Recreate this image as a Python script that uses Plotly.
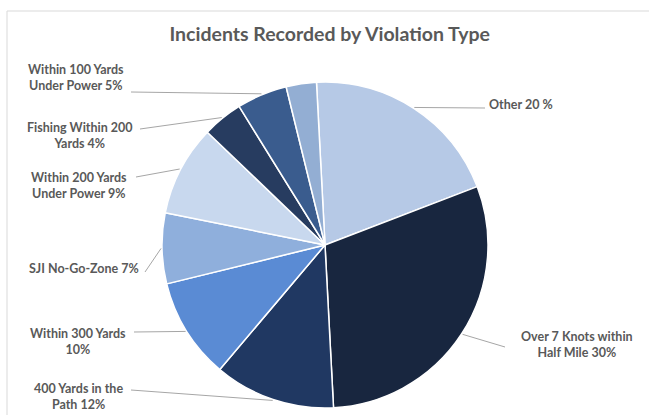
import math
import plotly.graph_objects as go

# ---- data ----
labels = ["Other", "Over 7 Knots within Half Mile", "400 Yards in the Path",
          "Within 300 Yards", "SJI No-Go-Zone", "Within 200 Yards Under Power",
          "Fishing Within 200 Yards", "Within 100 Yards Under Power", "Unlabeled"]
values = [20, 30, 12, 10, 7, 9, 4, 5, 3]
label_texts = ["Other 20 %", "Over 7 Knots within<br>Half Mile 30%",
               "400 Yards in the<br>Path 12%", "Within 300 Yards<br>10%",
               "SJI No-Go-Zone 7%", "Within 200 Yards<br>Under Power 9%",
               "Fishing Within 200<br>Yards 4%", "Within 100 Yards<br>Under Power 5%", None]
colors = ["#B6C9E6", "#18263F", "#203862", "#5A8BD4", "#8FAFDC",
          "#C8D8EE", "#273C60", "#3A5C8E", "#93AED3"]

# ---- layout constants (pixels) ----
W, H = 649, 415
CX, CY, R = 325, 245, 163
ROT = -3
# label text anchor (x, y, xanchor) and leader-line label end (x, y)
label_pos = [
    (487, 104, "left", (485, 108)),
    (577, 344, "center", (505, 347)),
    (78, 396, "center", (131, 390)),
    (78, 341, "center", (134, 332)),
    (84, 268, "center", (145, 272)),
    (79, 185, "center", (136, 177)),
    (80, 135, "center", (140, 129)),
    (76, 77, "center", (131, 92)),
    None,
]

fig = go.Figure()
fig.add_trace(go.Pie(
    labels=labels, values=values, sort=False, direction="clockwise",
    rotation=ROT, textinfo="none", hoverinfo="label+percent",
    marker=dict(colors=colors, line=dict(color="white", width=1.5)),
    domain=dict(x=[(CX - R) / W, (CX + R) / W], y=[1 - (CY + R) / H, 1 - (CY - R) / H]),
    showlegend=False,
))

total = sum(values)
cum = 0
shapes = []
annotations = []
for v, t, lp in zip(values, label_texts, label_pos):
    mid = ROT + (cum + v / 2) / total * 360
    cum += v
    if t is None or lp is None:
        continue
    a = math.radians(mid)
    rx = CX + (R + 1) * math.sin(a)
    ry = CY - (R + 1) * math.cos(a)
    tx, ty, xa, (lx, ly) = lp
    shapes.append(dict(type="line", xref="x", yref="y", x0=lx, y0=ly, x1=rx, y1=ry,
                       line=dict(color="#A6A6A6", width=1)))
    annotations.append(dict(x=tx, y=ty, xref="x", yref="y", text="<b>" + t.replace("<br>", "</b><br><b>") + "</b>",
                            showarrow=False,
                            xanchor=xa, yanchor="middle", align="center",
                            font=dict(family="Lato", size=12.5, color="#595959")))

# chart border
shapes.append(dict(type="rect", xref="paper", yref="paper", x0=7 / W, x1=1.02,
                   y0=-0.02, y1=1 - 11 / H, line=dict(color="#D9D9D9", width=1),
                   fillcolor="rgba(0,0,0,0)", layer="below"))

fig.update_layout(
    width=W, height=H, margin=dict(l=0, r=0, t=0, b=0),
    paper_bgcolor="white", plot_bgcolor="rgba(0,0,0,0)",
    title=dict(text="<b>Incidents Recorded by Violation Type</b>", x=0.508, xanchor="center",
               y=1 - 34 / H, yanchor="middle",
               font=dict(family="Lato", size=19.5, color="#595959")),
    xaxis=dict(range=[0, W], visible=False, fixedrange=True, domain=[0, 1]),
    yaxis=dict(range=[H, 0], visible=False, fixedrange=True, domain=[0, 1]),
    shapes=shapes, annotations=annotations,
)

fig.write_html("out.html")
